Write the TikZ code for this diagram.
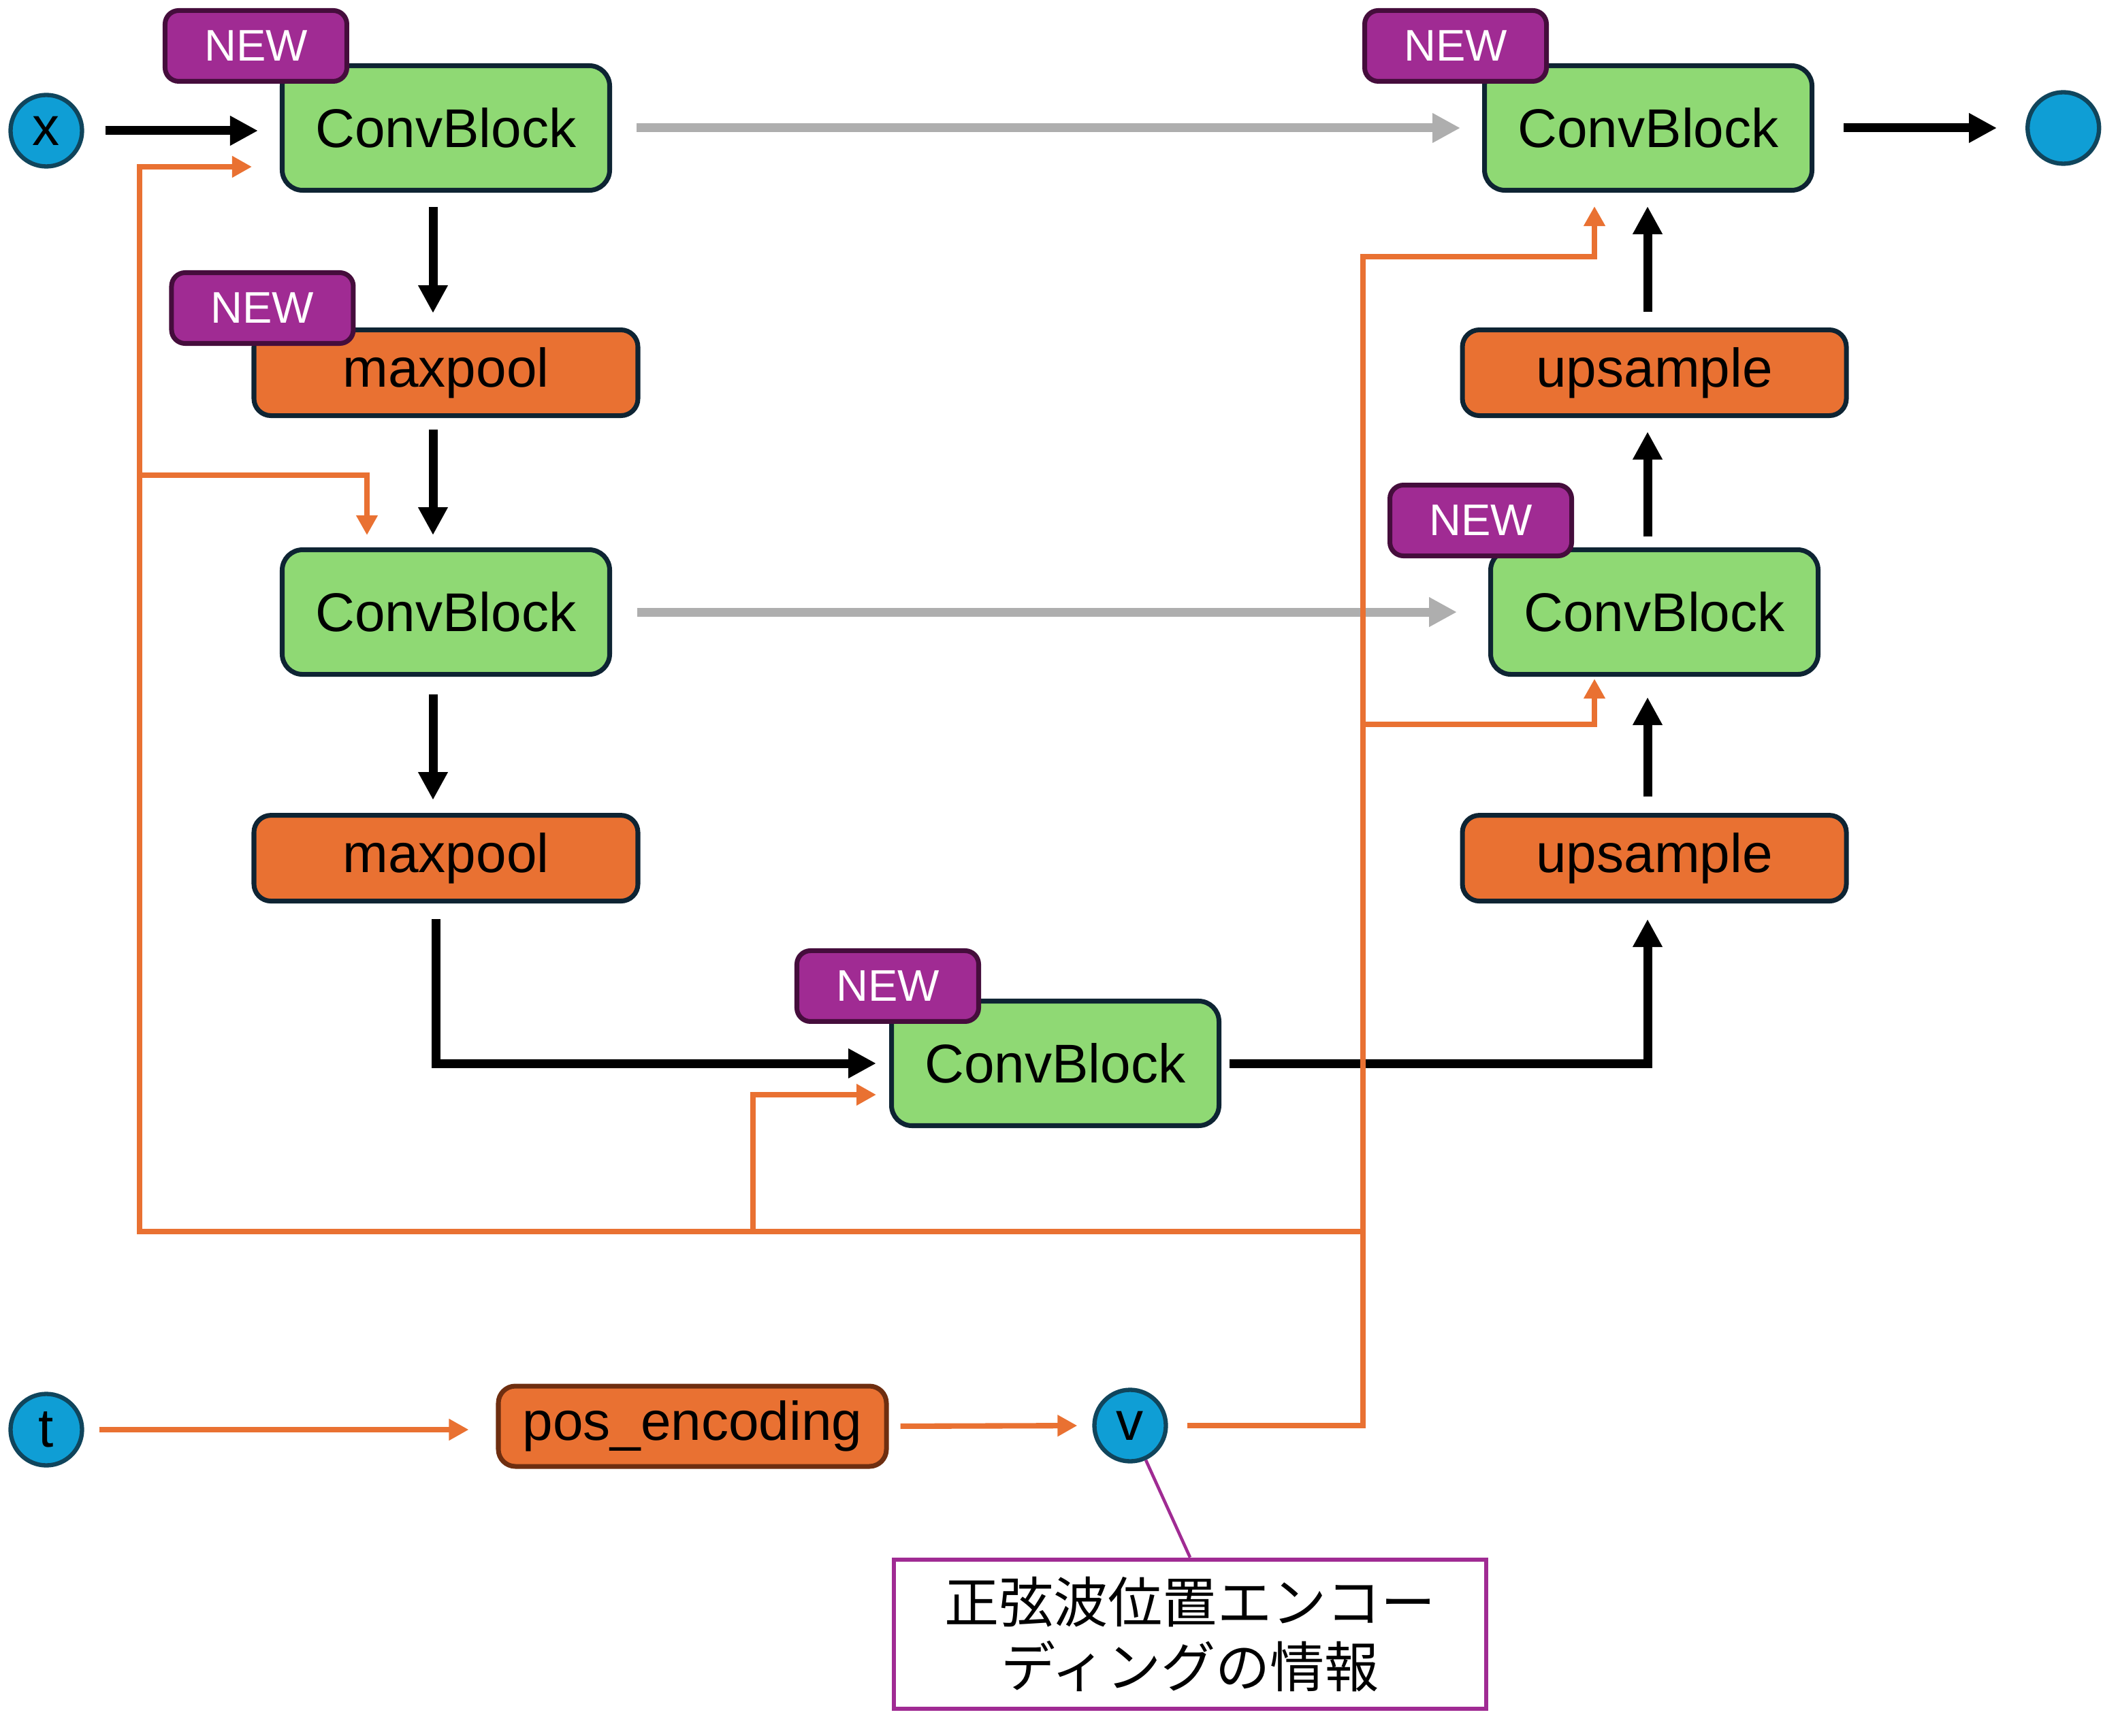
\documentclass[tikz,border=0pt]{standalone}
\usepackage{fontspec}
\setmainfont{Liberation Sans}
\newfontfamily\cjkfont{Noto Sans CJK JP}
\usepackage{xcolor}
\usepackage{tikz}
\usetikzlibrary{positioning, arrows.meta, calc}

\definecolor{blockgreen}{RGB}{143,217,116}
\definecolor{blockline}{RGB}{14,36,51}
\definecolor{oporange}{RGB}{233,113,50}
\definecolor{newpurple}{RGB}{160,43,147}
\definecolor{newline}{RGB}{69,13,60}
\definecolor{iocyan}{RGB}{15,158,213}
\definecolor{ioline}{RGB}{16,69,92}
\definecolor{skipgray}{RGB}{174,174,174}
\definecolor{posline}{RGB}{110,46,16}

\begin{document}
\begin{tikzpicture}[
    font=\fontsize{22.8}{27}\selectfont,
    convbox/.style={rectangle, draw=blockline, line width=2pt, rounded corners=0.3cm, minimum width=4.81cm, minimum height=1.83cm, inner sep=0pt, fill=blockgreen},
    opbox/.style={rectangle, draw=#1, line width=2pt, rounded corners=0.25cm, minimum width=5.64cm, minimum height=1.26cm, inner sep=0pt, fill=oporange},
    newtag/.style={rectangle, draw=newline, line width=2pt, rounded corners=0.2cm, minimum width=2.67cm, minimum height=1.04cm, inner sep=0pt, fill=newpurple, text=white, font=\fontsize{18.5}{22}\selectfont},
    io/.style={circle, draw=ioline, line width=1.8pt, fill=iocyan, minimum size=1.05cm, inner sep=0pt},
    notebox/.style={rectangle, draw=newpurple, line width=1.8pt, fill=white, minimum width=8.70cm, minimum height=2.19cm, align=center, font=\cjkfont\fontsize{22.8}{27}\selectfont},
    arrow/.style={->, line width=3.7pt, >={Triangle[length=4.1mm, width=4.1mm]}},
    skiparrow/.style={->, line width=3.7pt, color=skipgray, >={Triangle[length=4.1mm, width=4.1mm]}},
    condarrow/.style={->, line width=2.3pt, color=oporange, >={Triangle[length=2.9mm, width=3.0mm]}}
]
\useasboundingbox (0,0) rectangle (30.89,-25.50);

% Input
\node[io] (xin) at (0.68,-1.92) {x};

% Encoder
\node[convbox] (cb1) at (6.55,-1.88) {ConvBlock};
\node[opbox=blockline, below=1.98cm of cb1] (mp1) {maxpool};
\node[convbox, below=1.90cm of mp1] (cb2) {ConvBlock};
\node[opbox=blockline, below=2.00cm of cb2] (mp2) {maxpool};

% Bottleneck
\node[convbox] (cb3) at (15.50,-15.62) {ConvBlock};

% Decoder
\node[convbox, right=12.78cm of cb1] (cb5) {ConvBlock};
\node[opbox=blockline, below=1.98cm of cb5, xshift=0.09cm] (up1) {upsample};
\node[convbox, below=1.90cm of up1] (cb4) {ConvBlock};
\node[opbox=blockline, below=2.00cm of cb4] (up2) {upsample};

% Output
\node[io, right=3.10cm of cb5] (out) {};

% NEW tags
\node[newtag, anchor=south east] (new1) at ([xshift=1.02cm, yshift=-0.30cm]cb1.north west) {NEW};
\node[newtag, anchor=south east] (new2) at ([xshift=1.53cm, yshift=-0.27cm]mp1.north west) {NEW};
\node[newtag, anchor=south east] (new3) at ([xshift=1.35cm, yshift=-0.37cm]cb3.north west) {NEW};
\node[newtag, anchor=south east] (new4) at ([xshift=1.26cm, yshift=-0.16cm]cb4.north west) {NEW};
\node[newtag, anchor=south east] (new5) at ([xshift=0.98cm, yshift=-0.30cm]cb5.north west) {NEW};

% Time embedding
\node[io] (tin) at (0.68,-21.00) {t};
\node[opbox=posline, minimum width=5.70cm, minimum height=1.18cm] (pos) at (10.17,-20.95) {pos\_encoding};
\node[io] (vnode) at (16.60,-20.94) {v};
\node[notebox, below=1.38cm of vnode, xshift=0.88cm] (note) {正弦波位置エンコー\\ディングの情報};

% Arrows
% Main path
\draw[arrow, shorten <=0.31cm, shorten >=0.32cm] (xin.east) -- (xin.east -| cb1.west);
\draw[arrow, shorten <=0.21cm, shorten >=0.21cm] ([xshift=-1.9mm]cb1.south) -- ([xshift=-1.9mm]mp1.north);
\draw[arrow, shorten <=0.17cm, shorten >=0.18cm] ([xshift=-1.9mm]mp1.south) -- ([xshift=-1.9mm]cb2.north);
\draw[arrow, shorten <=0.26cm, shorten >=0.19cm] ([xshift=-1.9mm]cb2.south) -- ([xshift=-1.9mm]mp2.north);
\draw[arrow, shorten <=0.23cm, shorten >=0.19cm] ([xshift=-1.5mm]mp2.south) |- (cb3.west);
\draw[arrow, shorten <=0.12cm, shorten >=0.23cm] (cb3.east) -| ([xshift=-1mm]up2.south);
\draw[arrow, shorten <=0.24cm, shorten >=0.30cm] ([xshift=-1mm]up2.north) -- ([xshift=-1mm]cb4.south);
\draw[arrow, shorten <=0.16cm, shorten >=0.20cm] ([xshift=-1mm]cb4.north) -- ([xshift=-1mm]up1.south);
\draw[arrow, shorten <=0.23cm, shorten >=0.20cm] ([xshift=-1mm]up1.north) -- ([xshift=-1mm]up1.north |- cb5.south);
\draw[arrow, shorten <=0.43cm, shorten >=0.42cm] (out.west -| cb5.east) -- (out.west);

% Skip connections
\draw[skiparrow, shorten <=0.36cm, shorten >=0.32cm] (cb1.east) -- (cb1.east -| cb5.west);
\draw[skiparrow, shorten <=0.37cm, shorten >=0.46cm] (cb2.east) -- (cb2.east -| cb4.west);

% Time embedding path
\draw[condarrow, shorten <=0.22cm, shorten >=0.40cm] (tin.east) -- (tin.east -| pos.west);
\draw[condarrow, shorten <=0.17cm, shorten >=0.22cm] (pos.east) -- (vnode.west);

% Conditioning bus
\coordinate (vturn) at (20.02,-20.94);
\coordinate (topturn) at (20.02,-3.77);
\coordinate (midturn) at (20.02,-10.64);
\coordinate (lowjoin) at (20.02,-18.09);
\coordinate (lowleft) at (2.05,-18.09);
\coordinate (upleft) at (2.05,-2.45);
\coordinate (cb2turn) at (2.05,-6.98);
\coordinate (cb3turn) at (11.06,-18.09);

\draw[condarrow, shorten <=0.28cm, shorten >=0.20cm] (vnode.east) -- (vturn) -- (topturn) -| ([xshift=-7.9mm]cb5.south);
\draw[condarrow, shorten >=0.03cm] (midturn) -| ([xshift=-8.8mm]cb4.south);
\draw[condarrow, shorten >=0.41cm] (lowjoin) -- (lowleft) -- (upleft) -- (upleft -| cb1.west);
\draw[condarrow, shorten >=0.18cm] (cb2turn) -| ([xshift=-1.16cm]cb2.north);
\draw[condarrow, shorten >=0.19cm] (cb3turn) |- ([yshift=-4.6mm]cb3.west);

% Note
\draw[newpurple, line width=1.3pt] (vnode) -- (note.north);

\end{tikzpicture}
\end{document}
